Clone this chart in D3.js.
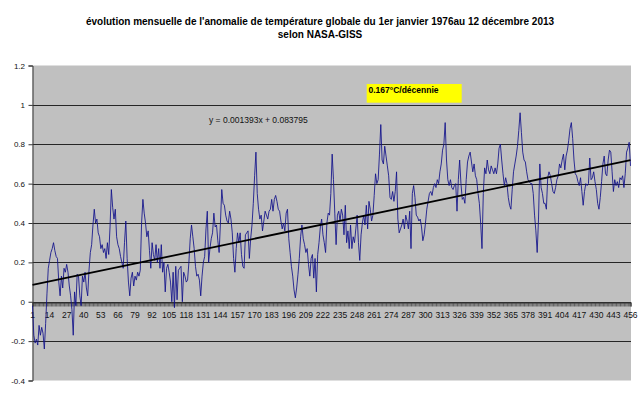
<!DOCTYPE html>
<html>
<head>
<meta charset="utf-8">
<script src="https://cdn.jsdelivr.net/npm/d3@7"></script>
<style>
  body { margin: 0; background: #fff; }
  svg { display: block; }
  text { font-family: "Liberation Sans", Arial, sans-serif; }
</style>
</head>
<body>
<svg></svg>
<script>
// monthly anomalies (°C), Jan 1976 .. Dec 2013, one row per year
const anomalies = [
  -0.02, -0.17, -0.21, -0.19, -0.22, -0.12, -0.17, -0.13, -0.16, -0.24, -0.11, 0.04,
  0.17, 0.21, 0.25, 0.27, 0.30, 0.26, 0.23, 0.22, 0.10, 0.03, 0.13, 0.07,
  0.17, 0.15, 0.19, 0.15, 0.08, 0.03, -0.04, -0.17, 0.05, -0.02, 0.14, 0.13,
  0.03, -0.02, 0.13, 0.10, 0.15, 0.07, 0.03, 0.16, 0.25, 0.29, 0.39, 0.47,
  0.40, 0.42, 0.35, 0.33, 0.27, 0.29, 0.25, 0.27, 0.22, 0.30, 0.24, 0.38,
  0.57, 0.48, 0.42, 0.47, 0.33, 0.29, 0.27, 0.23, 0.20, 0.17, 0.30, 0.41,
  0.22, 0.10, 0.03, 0.12, 0.15, 0.08, 0.13, 0.11, 0.15, 0.13, 0.16, 0.40,
  0.52, 0.45, 0.40, 0.33, 0.36, 0.26, 0.17, 0.30, 0.24, 0.21, 0.29, 0.20,
  0.27, 0.17, 0.29, 0.15, 0.20, 0.05, 0.17, 0.19, 0.15, 0.10, 0.00, 0.15,
  -0.03, 0.18, 0.01, 0.16, 0.17, 0.18, 0.00, 0.15, 0.13, 0.10, 0.11, 0.20,
  0.32, 0.39, 0.33, 0.27, 0.18, 0.13, 0.14, 0.11, 0.03, 0.13, 0.20, 0.23,
  0.37, 0.46, 0.20, 0.27, 0.32, 0.35, 0.45, 0.38, 0.39, 0.31, 0.25, 0.40,
  0.57, 0.50, 0.49, 0.44, 0.41, 0.40, 0.46, 0.42, 0.35, 0.22, 0.15, 0.27,
  0.35, 0.30, 0.35, 0.24, 0.18, 0.17, 0.34, 0.35, 0.36, 0.22, 0.32, 0.39,
  0.50, 0.64, 0.76, 0.55, 0.47, 0.42, 0.44, 0.36, 0.41, 0.46, 0.44, 0.42,
  0.46, 0.47, 0.52, 0.46, 0.52, 0.54, 0.51, 0.47, 0.46, 0.41, 0.37, 0.40,
  0.36, 0.45, 0.47, 0.32, 0.25, 0.18, 0.13, 0.06, 0.02, 0.07, 0.14, 0.22,
  0.33, 0.39, 0.32, 0.29, 0.25, 0.27, 0.19, 0.13, 0.22, 0.24, 0.12, 0.22,
  0.05, 0.24, 0.30, 0.38, 0.42, 0.34, 0.30, 0.25, 0.40, 0.45, 0.44, 0.55,
  0.75, 0.62, 0.45, 0.29, 0.44, 0.46, 0.41, 0.47, 0.44, 0.34, 0.49, 0.30,
  0.36, 0.27, 0.39, 0.27, 0.33, 0.30, 0.37, 0.44, 0.30, 0.21, 0.34, 0.40,
  0.44, 0.39, 0.49, 0.37, 0.51, 0.47, 0.41, 0.44, 0.54, 0.65, 0.60, 0.62,
  0.75, 0.90, 0.72, 0.70, 0.79, 0.74, 0.69, 0.64, 0.53, 0.52, 0.56, 0.51,
  0.56, 0.66, 0.42, 0.35, 0.37, 0.39, 0.42, 0.37, 0.44, 0.41, 0.37, 0.46,
  0.27, 0.55, 0.59, 0.53, 0.44, 0.43, 0.41, 0.42, 0.38, 0.31, 0.34, 0.40,
  0.47, 0.51, 0.55, 0.56, 0.54, 0.58, 0.60, 0.58, 0.62, 0.60, 0.66, 0.70,
  0.77, 0.80, 0.91, 0.72, 0.62, 0.59, 0.62, 0.58, 0.57, 0.59, 0.60, 0.46,
  0.62, 0.72, 0.60, 0.52, 0.53, 0.50, 0.62, 0.71, 0.74, 0.76, 0.71, 0.66,
  0.70, 0.64, 0.62, 0.55, 0.50, 0.40, 0.27, 0.55, 0.68, 0.65, 0.72, 0.67,
  0.65, 0.69, 0.67, 0.65, 0.68, 0.65, 0.70, 0.78, 0.80, 0.72, 0.65, 0.59,
  0.63, 0.60, 0.53, 0.49, 0.47, 0.57, 0.66, 0.70, 0.74, 0.79, 0.87, 0.96,
  0.86, 0.76, 0.72, 0.71, 0.66, 0.62, 0.61, 0.60, 0.60, 0.55, 0.44, 0.36,
  0.25, 0.42, 0.70, 0.58, 0.55, 0.50, 0.50, 0.47, 0.63, 0.66, 0.64, 0.60,
  0.56, 0.55, 0.58, 0.62, 0.64, 0.70, 0.68, 0.72, 0.75, 0.67, 0.74, 0.77,
  0.82, 0.88, 0.91, 0.83, 0.72, 0.65, 0.64, 0.61, 0.59, 0.63, 0.56, 0.49,
  0.56, 0.60, 0.59, 0.60, 0.73, 0.62, 0.63, 0.66, 0.61, 0.57, 0.50, 0.47,
  0.53, 0.61, 0.70, 0.74, 0.65, 0.64, 0.72, 0.77, 0.76, 0.66, 0.56, 0.62,
  0.59, 0.61, 0.58, 0.63, 0.62, 0.64, 0.58, 0.65, 0.76, 0.78, 0.81, 0.69
];

// month numbers used as categories (1 = janvier 1976)
const months = anomalies.map((d, i) => i + 1);

const xTickLabels = [1, 14, 27, 40, 53, 66, 79, 92, 105, 118, 131, 144, 157, 170, 183, 196, 209, 222,
  235, 248, 261, 274, 287, 300, 313, 326, 339, 352, 365, 378, 391, 404, 417, 430, 443, 456];
const yTicks = [-0.4, -0.2, 0, 0.2, 0.4, 0.6, 0.8, 1, 1.2];

// Excel linear trend line
const trendSlope = 0.001393;
const trendIntercept = 0.083795;

const titleLines = [
  "évolution mensuelle de l'anomalie de température globale du 1er janvier 1976au 12 décembre 2013",
  "selon NASA-GISS"
];
const trendLabel = "y = 0.001393x + 0.083795";
const boxLabel = "0.167°C/décennie";

const width = 640, height = 398;
const plot = { left: 32.5, right: 631, top: 65.5, bottom: 380.5 };

const svg = d3.select("svg")
  .attr("width", width)
  .attr("height", height);

svg.append("rect")
  .attr("width", width)
  .attr("height", height)
  .attr("fill", "#fff");

const x = d3.scaleLinear()
  .domain([1, months.length])
  .range([plot.left, plot.right - 0.5]);

const y = d3.scaleLinear()
  .domain([-0.4, 1.2])
  .range([plot.bottom, plot.top]);

// title
svg.selectAll(".title")
  .data(titleLines)
  .enter()
  .append("text")
  .attr("x", 320)
  .attr("y", (d, i) => i === 0 ? 24.5 : 38.3)
  .attr("text-anchor", "middle")
  .attr("font-size", "10px")
  .attr("font-weight", "bold")
  .text(d => d);

// plot area
svg.append("rect")
  .attr("x", plot.left)
  .attr("y", plot.top)
  .attr("width", plot.right - plot.left)
  .attr("height", plot.bottom - plot.top)
  .attr("fill", "#c0c0c0");

// horizontal gridlines
svg.append("g")
  .selectAll("line")
  .data(yTicks.filter(d => d > -0.4 && d < 1.2))
  .enter()
  .append("line")
  .attr("x1", plot.left)
  .attr("x2", plot.right)
  .attr("y1", d => Math.round(y(d)) + 0.5)
  .attr("y2", d => Math.round(y(d)) + 0.5)
  .attr("stroke", "#262626")
  .attr("stroke-width", 1);

// y axis
const yAxis = svg.append("g")
  .attr("transform", `translate(${plot.left},0)`)
  .call(d3.axisLeft(y)
    .tickValues(yTicks)
    .tickSize(4)
    .tickPadding(3.5)
    .tickFormat(d => String(+d.toFixed(1))));
yAxis.select(".domain").attr("stroke", "#333");
yAxis.selectAll(".tick line").attr("stroke", "#333");
yAxis.selectAll("text")
  .attr("font-size", "8px")
  .attr("font-family", "'Liberation Sans', Arial, sans-serif")
  .attr("fill", "#111");

// category axis crossing at 0, one tick per month
const xAxis = svg.append("g")
  .attr("transform", `translate(0,${Math.round(y(0)) + 0.5})`)
  .call(d3.axisBottom(x)
    .tickValues(months)
    .tickSize(4)
    .tickFormat(""));
xAxis.select(".domain").attr("stroke", "#333").attr("stroke-width", 1.2);
xAxis.selectAll(".tick line").attr("stroke", "#3a3a3a").attr("stroke-width", 0.7);

svg.append("g")
  .selectAll("text")
  .data(xTickLabels)
  .enter()
  .append("text")
  .attr("x", d => x(d))
  .attr("y", Math.round(y(0)) + 16)
  .attr("text-anchor", "middle")
  .attr("font-size", "8.5px")
  .attr("fill", "#111")
  .text(d => d);

// monthly series
svg.append("path")
  .datum(anomalies)
  .attr("fill", "none")
  .attr("stroke", "#10108a")
  .attr("stroke-width", 0.85)
  .attr("stroke-linejoin", "round")
  .attr("d", d3.line()
    .x((d, i) => x(months[i]))
    .y(d => y(d)));

// trend line
const trendEnds = [months[0], months[months.length - 1]];
svg.append("line")
  .attr("x1", x(trendEnds[0]))
  .attr("y1", y(trendSlope * trendEnds[0] + trendIntercept))
  .attr("x2", x(trendEnds[1]))
  .attr("y2", y(trendSlope * trendEnds[1] + trendIntercept))
  .attr("stroke", "#000")
  .attr("stroke-width", 1.8);

// trend equation
svg.append("text")
  .attr("x", 209)
  .attr("y", 123)
  .attr("font-size", "8.5px")
  .attr("fill", "#111")
  .text(trendLabel);

// yellow label box
svg.append("rect")
  .attr("x", 366.7)
  .attr("y", 84)
  .attr("width", 95)
  .attr("height", 18.7)
  .attr("fill", "#ffff00");

svg.append("text")
  .attr("x", 368.5)
  .attr("y", 93.3)
  .attr("font-size", "8.5px")
  .attr("font-weight", "bold")
  .attr("fill", "#000")
  .text(boxLabel);
</script>
</body>
</html>
